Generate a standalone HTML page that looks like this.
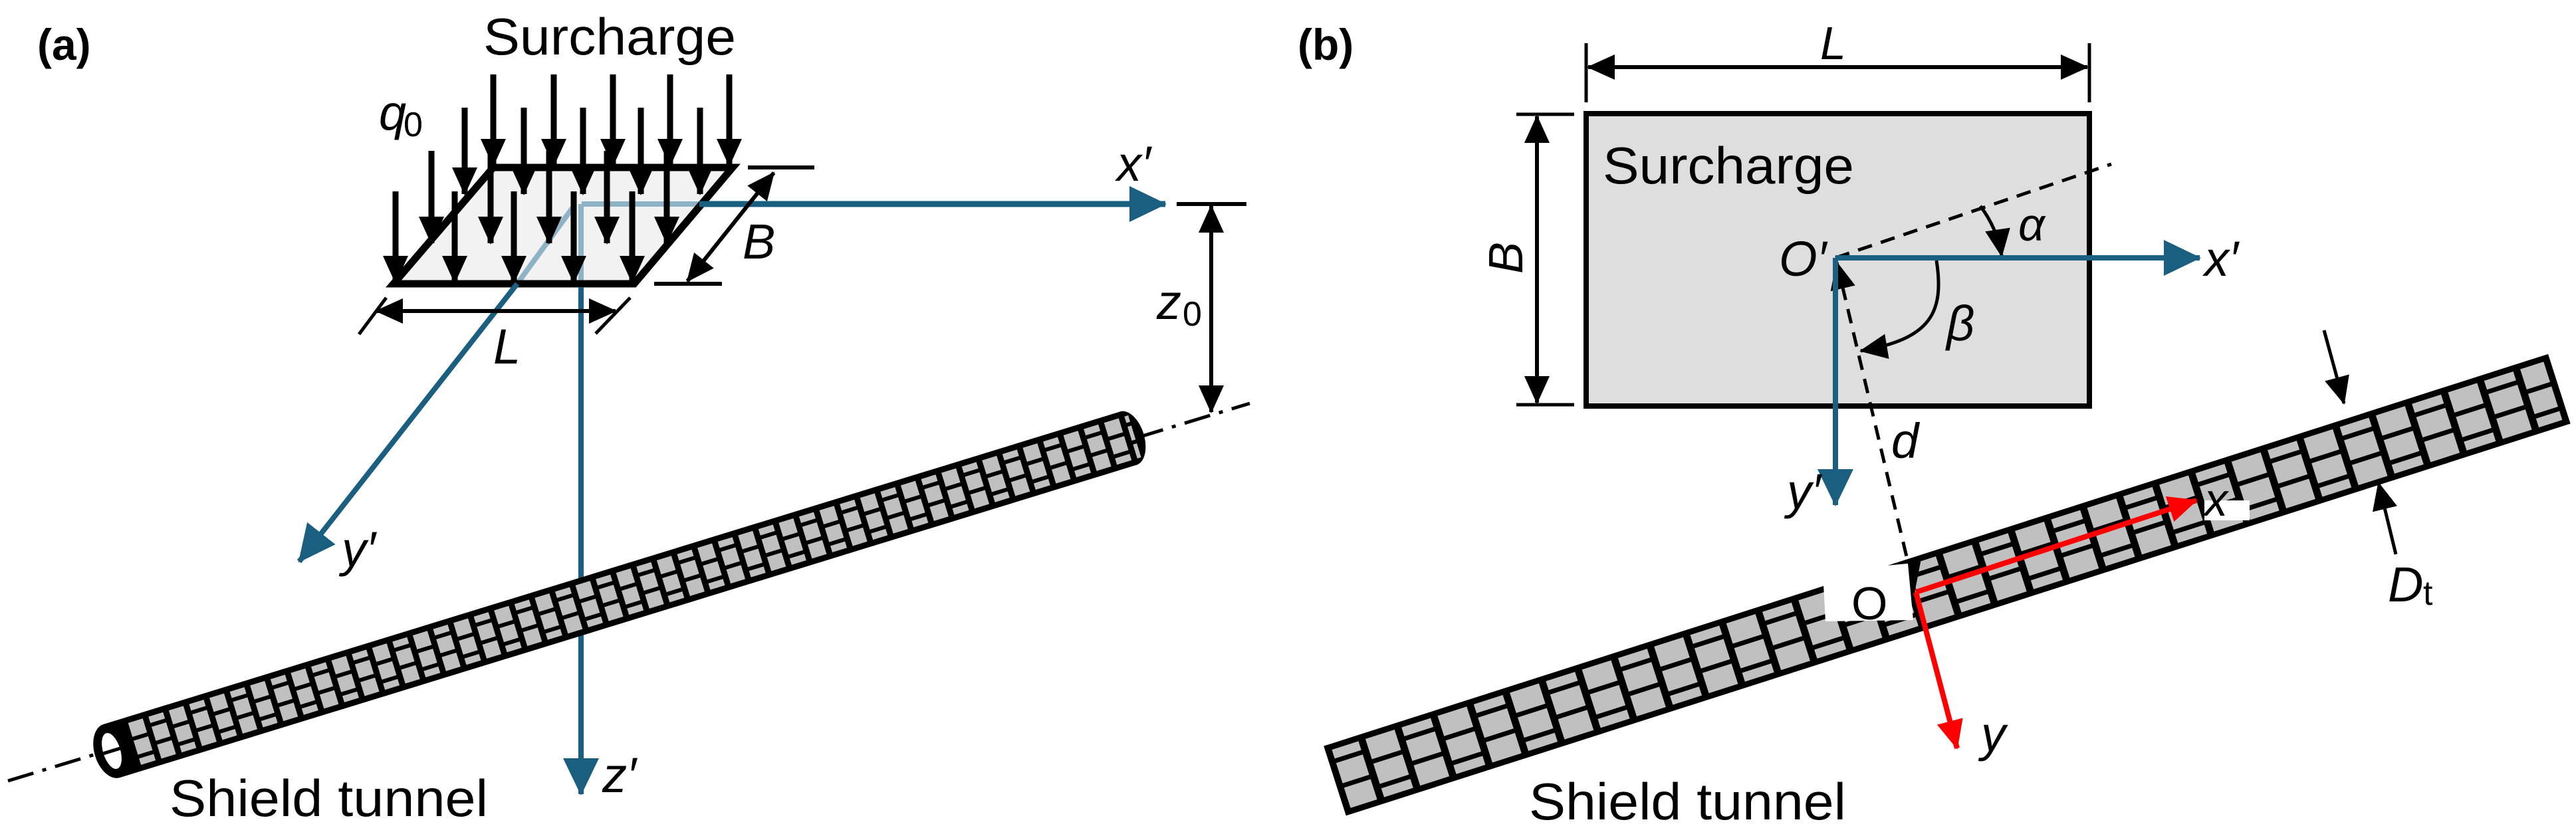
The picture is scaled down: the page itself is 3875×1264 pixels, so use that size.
<!DOCTYPE html>
<html><head><meta charset="utf-8"><style>
html,body{margin:0;padding:0;background:#fff;}
svg{display:block;}
text{font-family:"Liberation Sans",Arial,sans-serif;fill:#000;}
.it{font-style:italic;}
</style></head><body>
<svg width="3875" height="1264" viewBox="0 0 3875 1264" xmlns="http://www.w3.org/2000/svg">
<defs>
<marker id="mk" markerWidth="42" markerHeight="38" refX="40" refY="19" orient="auto-start-reverse" markerUnits="userSpaceOnUse"><path d="M0,0 L42,19 L0,38 z" fill="#000"/></marker>
<marker id="mb" markerWidth="56" markerHeight="54" refX="54" refY="27" orient="auto" markerUnits="userSpaceOnUse"><path d="M0,0 L56,27 L0,54 z" fill="#1a5f80"/></marker>
<marker id="mr" markerWidth="44" markerHeight="40" refX="42" refY="20" orient="auto" markerUnits="userSpaceOnUse"><path d="M0,0 L44,20 L0,40 z" fill="#ff0000"/></marker>
<pattern id="pb" patternUnits="userSpaceOnUse" x="0" y="-46" width="114" height="92">
<rect x="6" y="0" width="46" height="14" fill="#c0c0c0"/>
<rect x="6" y="21" width="46" height="32" fill="#c0c0c0"/>
<rect x="6" y="60" width="46" height="32" fill="#c0c0c0"/>
<rect x="63" y="0" width="46" height="32" fill="#c0c0c0"/>
<rect x="63" y="39" width="46" height="32" fill="#c0c0c0"/>
<rect x="63" y="78" width="46" height="14" fill="#c0c0c0"/>
</pattern>
<pattern id="pa" patternUnits="userSpaceOnUse" x="0" y="-33" width="64" height="66">
<rect x="4" y="0" width="23" height="10" fill="#c0c0c0"/>
<rect x="4" y="16" width="23" height="22" fill="#c0c0c0"/>
<rect x="4" y="44" width="23" height="22" fill="#c0c0c0"/>
<rect x="36" y="0" width="23" height="22" fill="#c0c0c0"/>
<rect x="36" y="28" width="23" height="22" fill="#c0c0c0"/>
<rect x="36" y="56" width="23" height="10" fill="#c0c0c0"/>
</pattern>
</defs>

<!-- ===== Panel (a) ===== -->
<text x="56" y="90" font-size="66" font-weight="bold">(a)</text>
<text x="727" y="82" font-size="78" textLength="380" lengthAdjust="spacingAndGlyphs">Surcharge</text>

<line x1="12" y1="1175" x2="1880" y2="607" stroke="#000" stroke-width="5" stroke-dasharray="40,14,6,14"/>

<!-- parallelogram -->
<polygon points="742,252 1102,252 954,427 592,427" fill="#f2f2f2"/>
<line x1="875" y1="307" x2="1052" y2="307" stroke="#8fb3c6" stroke-width="8"/>
<line x1="874" y1="307" x2="874" y2="427" stroke="#8fb3c6" stroke-width="8"/>
<line x1="861" y1="313" x2="778" y2="427" stroke="#8fb3c6" stroke-width="8"/>
<polyline points="742,252 1102,252 954,427 592,427 742,252" fill="none" stroke="#000" stroke-width="11"/>

<g stroke="#000" stroke-width="9" marker-end="url(#mk)">
<line x1="742" y1="112" x2="742" y2="249"/>
<line x1="833" y1="112" x2="833" y2="249"/>
<line x1="922" y1="112" x2="922" y2="249"/>
<line x1="1008" y1="112" x2="1008" y2="249"/>
<line x1="1097" y1="112" x2="1097" y2="249"/>
<line x1="699" y1="162" x2="699" y2="292"/>
<line x1="788" y1="162" x2="788" y2="292"/>
<line x1="877" y1="162" x2="877" y2="292"/>
<line x1="964" y1="162" x2="964" y2="292"/>
<line x1="1053" y1="162" x2="1053" y2="292"/>
<line x1="649" y1="227" x2="649" y2="366"/>
<line x1="738" y1="227" x2="738" y2="366"/>
<line x1="826" y1="227" x2="826" y2="366"/>
<line x1="913" y1="227" x2="913" y2="366"/>
<line x1="1003" y1="227" x2="1003" y2="366"/>
<line x1="595" y1="288" x2="595" y2="425"/>
<line x1="684" y1="288" x2="684" y2="425"/>
<line x1="773" y1="288" x2="773" y2="425"/>
<line x1="863" y1="288" x2="863" y2="425"/>
<line x1="951" y1="288" x2="951" y2="425"/>
</g>

<line x1="1052" y1="307" x2="1753" y2="307" stroke="#1a5f80" stroke-width="9" marker-end="url(#mb)"/>
<line x1="874" y1="432" x2="874" y2="1195" stroke="#1a5f80" stroke-width="8" marker-end="url(#mb)"/>
<line x1="778" y1="427" x2="450" y2="845" stroke="#1a5f80" stroke-width="8" marker-end="url(#mb)"/>

<!-- tunnel a (on top of z' axis) -->
<g transform="translate(168,1130) rotate(-17.1)">
<rect x="0" y="-42" width="1600" height="84" fill="#000"/>
<ellipse cx="1600" cy="0" rx="24" ry="42" fill="#000"/>
<rect x="28" y="-33" width="1582" height="66" fill="url(#pa)"/>
<ellipse cx="0" cy="0" rx="26" ry="42" fill="#000"/>
<ellipse cx="0" cy="0" rx="13" ry="28" fill="#fff"/>
<line x1="-13" y1="0" x2="13" y2="0" stroke="#000" stroke-width="5"/>
</g>

<line x1="1125" y1="252" x2="1225" y2="252" stroke="#000" stroke-width="6"/>
<line x1="984" y1="427" x2="1086" y2="427" stroke="#000" stroke-width="6"/>
<line x1="1164" y1="260" x2="1034" y2="423" stroke="#000" stroke-width="6" marker-start="url(#mk)" marker-end="url(#mk)"/>
<line x1="566" y1="468" x2="926" y2="468" stroke="#000" stroke-width="6" marker-start="url(#mk)" marker-end="url(#mk)"/>
<line x1="540" y1="503" x2="581" y2="448" stroke="#000" stroke-width="5"/>
<line x1="896" y1="502" x2="948" y2="448" stroke="#000" stroke-width="5"/>
<line x1="1770" y1="307" x2="1875" y2="307" stroke="#000" stroke-width="6"/>
<line x1="1822" y1="310" x2="1822" y2="620" stroke="#000" stroke-width="6" marker-start="url(#mk)" marker-end="url(#mk)"/>

<text x="570" y="195" font-size="74" class="it">q</text><text x="607" y="205" font-size="52">0</text>
<text x="1680" y="272" font-size="74" class="it">x′</text>
<text x="1117" y="389" font-size="74" class="it">B</text>
<text x="1740" y="480" font-size="74" class="it">z</text><text x="1779" y="490" font-size="52">0</text>
<text x="742" y="547" font-size="74" class="it">L</text>
<text x="514" y="852" font-size="74" class="it">y′</text>
<text x="906" y="1192" font-size="74" class="it">z′</text>
<text x="255" y="1228" font-size="78" textLength="479" lengthAdjust="spacingAndGlyphs">Shield tunnel</text>

<!-- ===== Panel (b) ===== -->
<text x="1952" y="90" font-size="66" font-weight="bold">(b)</text>
<line x1="2386" y1="65" x2="2386" y2="154" stroke="#000" stroke-width="5"/>
<line x1="3143" y1="65" x2="3143" y2="154" stroke="#000" stroke-width="5"/>
<line x1="2389" y1="101" x2="3140" y2="101" stroke="#000" stroke-width="6" marker-start="url(#mk)" marker-end="url(#mk)"/>
<text x="2738" y="89" font-size="70" class="it">L</text>

<rect x="2386" y="171" width="757" height="440" fill="#dedede" stroke="#000" stroke-width="8"/>
<line x1="2281" y1="172" x2="2368" y2="172" stroke="#000" stroke-width="5"/>
<line x1="2281" y1="609" x2="2368" y2="609" stroke="#000" stroke-width="5"/>
<line x1="2312" y1="175" x2="2312" y2="606" stroke="#000" stroke-width="6" marker-start="url(#mk)" marker-end="url(#mk)"/>
<text x="0" y="0" font-size="72" class="it" transform="translate(2290,412) rotate(-90)">B</text>
<text x="2411" y="276" font-size="78" textLength="378" lengthAdjust="spacingAndGlyphs">Surcharge</text>

<g transform="translate(2008,1175) rotate(-17.76)">
<rect x="0" y="-55" width="1934" height="110" fill="#000"/>
<rect x="10" y="-46" width="1914" height="92" fill="url(#pb)"/>
</g>

<line x1="2761" y1="388" x2="3176" y2="247" stroke="#000" stroke-width="5" stroke-dasharray="22,14"/>
<line x1="2763" y1="395" x2="2880" y2="888" stroke="#000" stroke-width="5" stroke-dasharray="22,14" marker-start="url(#mk)" marker-end="url(#mk)"/>

<path d="M2979,310 Q3005,345 3011,385" fill="none" stroke="#000" stroke-width="5" marker-end="url(#mk)"/>
<path d="M2913,392 C2925,470 2905,510 2799,528" fill="none" stroke="#000" stroke-width="5" marker-end="url(#mk)"/>

<line x1="2761" y1="388" x2="3309" y2="388" stroke="#1a5f80" stroke-width="8" marker-end="url(#mb)"/>
<line x1="2761" y1="388" x2="2761" y2="760" stroke="#1a5f80" stroke-width="8" marker-end="url(#mb)"/>

<polygon points="2742,860 2870,848 2878,933 2746,935" fill="#fff"/>
<text x="2785" y="932" font-size="70">O</text>
<line x1="2882" y1="891" x2="3304" y2="753" stroke="#ff0000" stroke-width="8" marker-end="url(#mr)"/>
<line x1="2882" y1="891" x2="2944" y2="1126" stroke="#ff0000" stroke-width="8" marker-end="url(#mr)"/>
<rect x="3316" y="753" width="68" height="30" fill="#fff"/>
<text x="3316" y="776" font-size="70" class="it">x</text>

<line x1="3496" y1="497" x2="3526" y2="607" stroke="#000" stroke-width="5" marker-end="url(#mk)"/>
<line x1="3604" y1="834" x2="3578" y2="727" stroke="#000" stroke-width="5" marker-end="url(#mk)"/>

<text x="2676" y="415" font-size="74" class="it">O′</text>
<text x="3036" y="362" font-size="70" class="it">α</text>
<text x="3316" y="415" font-size="74" class="it">x′</text>
<text x="2928" y="512" font-size="74" class="it">β</text>
<text x="2845" y="689" font-size="74" class="it">d</text>
<text x="2688" y="765" font-size="74" class="it">y′</text>
<text x="2980" y="1130" font-size="74" class="it">y</text>
<text x="3592" y="905" font-size="74" class="it">D</text><text x="3645" y="910" font-size="52">t</text>
<text x="2300" y="1233" font-size="78" textLength="477" lengthAdjust="spacingAndGlyphs">Shield tunnel</text>
</svg>
</body></html>
